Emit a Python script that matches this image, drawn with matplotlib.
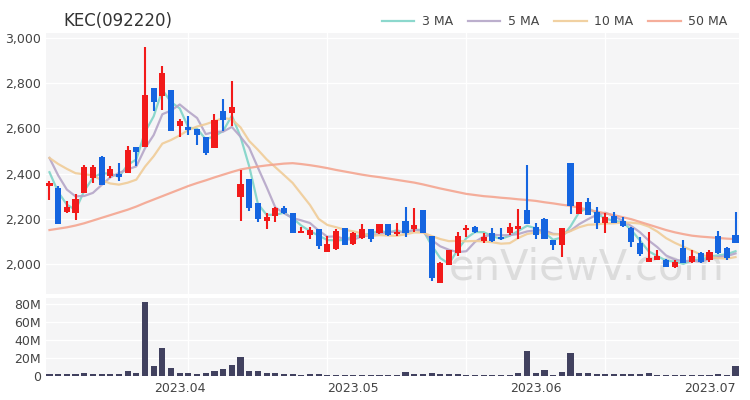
import matplotlib
matplotlib.use("Agg")
import matplotlib.pyplot as plt
import numpy as np
import pandas as pd
from matplotlib.ticker import FuncFormatter, MultipleLocator

# daily prices (KRW)
opens = [2345, 2335, 2231, 2224, 2312, 2381, 2474, 2388, 2396, 2403,
         2516, 2516, 2778, 2744, 2768, 2609, 2608, 2596, 2560, 2515,
         2678, 2670, 2298, 2376, 2268, 2192, 2212, 2246, 2227, 2136,
         2127, 2153, 2054, 2066, 2161, 2087, 2114, 2155, 2139, 2177,
         2133, 2190, 2153, 2239, 2124, 1917, 1996, 2050, 2150, 2165,
         2103, 2136, 2118, 2139, 2153, 2239, 2162, 2199, 2106, 2084,
         2448, 2221, 2276, 2232, 2180, 2212, 2192, 2158, 2091, 2010,
         2018, 2018, 1985, 2069, 2010, 2050, 2018, 2124, 2069, 2128]
highs = [2365, 2345, 2278, 2308, 2440, 2440, 2477, 2432, 2447, 2521,
         2518, 2959, 2778, 2876, 2768, 2641, 2655, 2596, 2560, 2664,
         2730, 2808, 2416, 2376, 2268, 2224, 2251, 2258, 2227, 2165,
         2165, 2153, 2124, 2153, 2161, 2143, 2177, 2155, 2177, 2177,
         2180, 2251, 2246, 2239, 2124, 2010, 2062, 2140, 2172, 2168,
         2136, 2158, 2158, 2183, 2242, 2438, 2183, 2202, 2106, 2158,
         2448, 2276, 2290, 2251, 2224, 2229, 2207, 2165, 2118, 2143,
         2062, 2021, 2018, 2106, 2062, 2054, 2062, 2147, 2077, 2229]
lows = [2285, 2175, 2224, 2194, 2312, 2356, 2349, 2381, 2366, 2403,
        2432, 2516, 2675, 2682, 2587, 2562, 2571, 2526, 2482, 2515,
        2588, 2612, 2192, 2236, 2187, 2155, 2187, 2221, 2138, 2136,
        2110, 2065, 2054, 2062, 2084, 2084, 2109, 2099, 2133, 2124,
        2124, 2121, 2143, 2139, 1925, 1914, 1996, 2035, 2118, 2136,
        2091, 2099, 2106, 2128, 2109, 2177, 2109, 2109, 2062, 2030,
        2221, 2221, 2217, 2153, 2139, 2180, 2162, 2077, 2035, 2010,
        2018, 1985, 1981, 2006, 2003, 2003, 2010, 2044, 2018, 2091]
closes = [2360, 2175, 2253, 2288, 2428, 2428, 2349, 2422, 2386, 2506,
          2496, 2749, 2715, 2847, 2587, 2631, 2593, 2571, 2490, 2637,
          2637, 2696, 2354, 2246, 2198, 2209, 2246, 2224, 2138, 2147,
          2150, 2080, 2087, 2147, 2084, 2139, 2155, 2109, 2177, 2128,
          2143, 2139, 2173, 2139, 1936, 2003, 2062, 2122, 2158, 2143,
          2121, 2103, 2109, 2162, 2168, 2177, 2128, 2109, 2084, 2158,
          2257, 2273, 2217, 2180, 2207, 2183, 2168, 2099, 2044, 2025,
          2035, 1985, 2010, 2006, 2035, 2010, 2054, 2050, 2025, 2094]
# closes just before the visible window (needed for the short MAs)
pre_closes = [2440, 2470, 2480, 2475, 2480, 2560, 2567, 2438, 2420]

# 50-day MA
ma50 = [2150, 2156, 2162, 2170, 2180, 2192, 2204, 2216, 2228, 2240,
        2254, 2270, 2285, 2300, 2315, 2330, 2345, 2358, 2370, 2383,
        2395, 2407, 2418, 2425, 2431, 2436, 2440, 2444, 2446, 2442,
        2437, 2431, 2424, 2416, 2409, 2402, 2395, 2389, 2384, 2378,
        2372, 2366, 2360, 2352, 2343, 2334, 2326, 2318, 2310, 2305,
        2300, 2297, 2293, 2290, 2286, 2283, 2279, 2273, 2268, 2262,
        2257, 2249, 2240, 2232, 2224, 2216, 2207, 2198, 2186, 2174,
        2162, 2150, 2140, 2132, 2125, 2121, 2118, 2115, 2112, 2110]

# volume in millions of shares
volumes = [2.7, 2.7, 2.0, 2.0, 3.5, 2.0, 2.0, 2.0, 2.7, 6.0,
           3.5, 82.0, 10.8, 30.8, 8.5, 3.5, 3.5, 2.7, 3.0, 6.0,
           7.7, 12.3, 21.0, 5.4, 5.4, 3.0, 3.0, 2.3, 2.3, 1.5,
           2.0, 2.0, 1.5, 1.5, 1.5, 1.5, 1.5, 1.5, 1.5, 1.5,
           1.5, 4.6, 2.0, 2.0, 3.8, 2.0, 2.0, 2.0, 1.0, 1.0,
           1.0, 1.0, 1.0, 1.0, 3.0, 27.7, 3.0, 7.0, 1.0, 4.2,
           25.8, 3.0, 3.0, 2.7, 2.3, 2.0, 2.0, 2.0, 2.0, 3.5,
           1.0, 1.0, 1.0, 1.0, 1.0, 1.0, 1.0, 2.7, 1.0, 11.0]

month_labels = ["2023.04", "2023.05", "2023.06", "2023.07"]
month_pos = [15, 35, 56, 76]
grid_pos = [16, 32, 48, 64]

UP = "#f21a1a"
DOWN = "#1565e0"
BG = "#f5f5f6"

n = len(closes)
x = np.arange(n)
o = np.array(opens)
c = np.array(closes)
colors = [UP if cc >= oo else DOWN for oo, cc in zip(o, c)]

all_close = pd.Series(pre_closes + closes)
mas = {}
for w in (3, 5, 10):
    mas[w] = all_close.rolling(w).mean().to_numpy()[len(pre_closes):]

fig = plt.figure(figsize=(7.5, 4), dpi=100)
ax = fig.add_axes([46 / 750, 1 - 294 / 400, 693 / 750, 261 / 400])
axv = fig.add_axes([46 / 750, 1 - 376 / 400, 693 / 750, 78 / 400])

for a in (ax, axv):
    a.set_facecolor(BG)
    for s in a.spines.values():
        s.set_visible(False)
    a.tick_params(length=0, labelsize=9, labelcolor="#444444")
    a.set_xlim(-0.4, n - 0.6)
    for g in grid_pos:
        a.axvline(g, color="white", lw=1, zorder=0)

# price panel
ax.set_ylim(1867, 3022)
ax.yaxis.set_major_locator(MultipleLocator(200))
ax.yaxis.set_major_formatter(FuncFormatter(lambda v, p: f"{int(v):,}"))
ax.grid(axis="y", color="white", lw=1)
ax.set_axisbelow(True)
ax.set_xticks([])

ax.text(0.78, 0.10, "enViewV.com", transform=ax.transAxes, fontsize=30,
        color="#dcdcdc", ha="center", va="center", zorder=0.5)

ma_style = [(3, "#80d4c8", "3 MA"), (5, "#b5a6c8", "5 MA"), (10, "#f0cc98", "10 MA")]
lines = []
for w, col, lab in ma_style:
    ln, = ax.plot(x, mas[w], color=col, lw=1.6, alpha=0.9, label=lab, zorder=3)
    lines.append(ln)
ln50, = ax.plot(x, ma50, color="#f4a590", lw=1.6, alpha=0.9, label="50 MA", zorder=3)
lines.append(ln50)

ax.vlines(x, lows, highs, colors=colors, lw=1.5, zorder=4)
bottoms = np.minimum(o, c)
heights = np.maximum(np.abs(c - o), 4)
ax.bar(x, heights, bottom=bottoms, width=0.7, color=colors, zorder=5)

# volume panel
axv.bar(x, volumes, width=0.7, color="#41415f", zorder=3)
axv.set_ylim(0, 87)
axv.set_yticks([0, 20, 40, 60, 80])
axv.yaxis.set_major_formatter(FuncFormatter(lambda v, p: "0" if v == 0 else f"{int(v)}M"))
axv.grid(axis="y", color="white", lw=1)
axv.set_axisbelow(True)
axv.set_xticks(month_pos)
axv.set_xticklabels(month_labels)
axv.tick_params(axis="x", pad=4)

fig.text(63 / 750, 1 - 21 / 400, "KEC(092220)", fontsize=12, color="#333333",
         va="center", ha="left")
fig.legend(handles=lines, loc="upper right", bbox_to_anchor=(0.985, 0.99),
           ncol=4, frameon=False, fontsize=9, handlelength=2.6,
           columnspacing=1.2, handletextpad=0.6, labelcolor="#444444")

fig.savefig("out.png", dpi=100, facecolor="white")
